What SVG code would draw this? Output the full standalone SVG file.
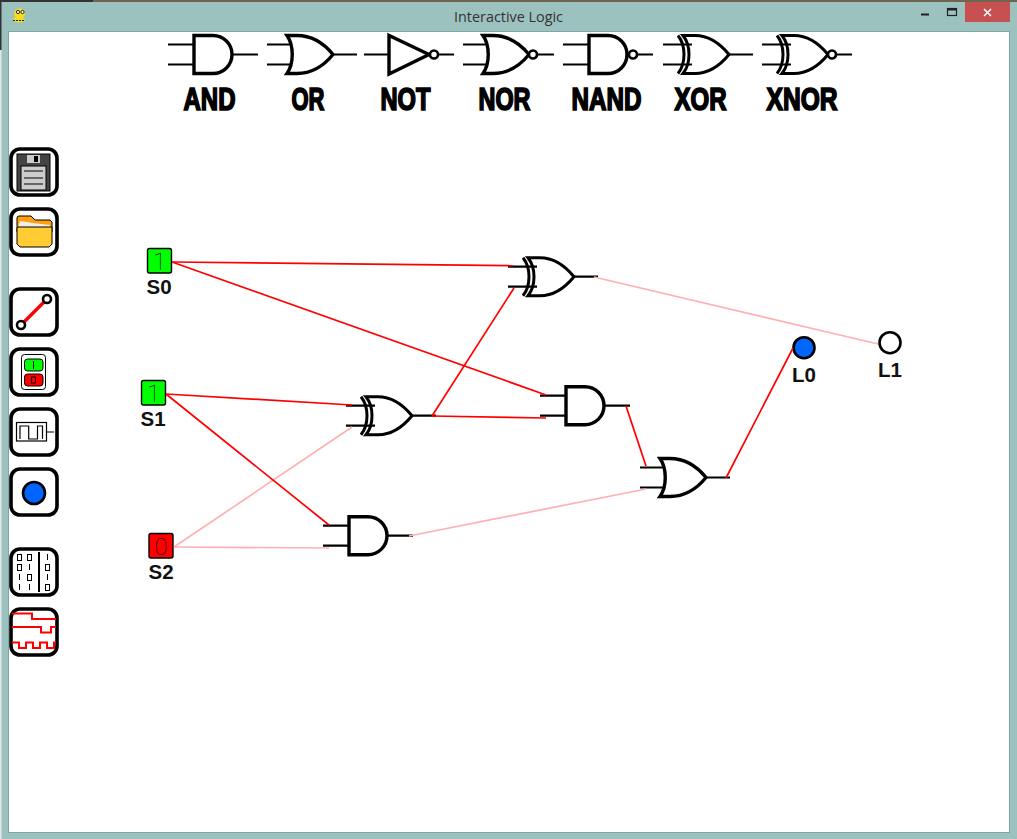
<svg xmlns="http://www.w3.org/2000/svg" width="1017" height="839" viewBox="0 0 1017 839">
<style>
.body{fill:none;stroke:#000;stroke-width:3.4;stroke-linejoin:miter}
.pin{fill:none;stroke:#000;stroke-width:2.2}
.bub{fill:#fff;stroke:#000;stroke-width:2.6}
.btn{fill:#fff;stroke:#000;stroke-width:3.6}
.name{font-family:"Liberation Sans",Arial,sans-serif;font-weight:700;font-size:31px;fill:#000;stroke:#000;stroke-width:1.7;text-anchor:start}
.tag{font-family:"Liberation Sans",Arial,sans-serif;font-weight:700;font-size:20.5px;fill:#111;text-anchor:middle}
.bit{font-family:"Roboto","Liberation Sans",sans-serif;font-weight:100;font-size:24px;fill:#000;text-anchor:middle}
.sw{stroke:#000;stroke-width:1.4}
.on{stroke:#ff0000;stroke-width:1.7;fill:none}
.off{stroke:#ffb0b0;stroke-width:1.7;fill:none}
.thin{fill:none;stroke:#000;stroke-width:1}
.wave{fill:none;stroke:#ff0000;stroke-width:2}
.led{stroke:#000;stroke-width:2.6}
</style>
<defs>
<g id="and"><path class="pin" d="M-26-10H0M-26 10H0M38 0H64"/><path class="body" d="M0-19H19A19 19 0 0 1 19 19H0Z"/></g>
<g id="or"><path class="pin" d="M-26-10H-1M-26 10H-1M40 0H64"/><path class="body" d="M-6-19C1-9 1 9-6 19H4C20 19 31 11 40 0 31-11 20-19 4-19Z"/></g>
<g id="xor"><path class="pin" d="M-26-10H3M-26 10H3M40 0H64"/><path class="body" d="M-11-19C-3-9-3 9-11 19M-6-19C2-9 2 9-6 19H6C20 19 31 11 40 0 31-11 20-19 6-19H-6Z" style="stroke-width:3"/></g>
<g id="nand"><path class="pin" d="M-26-10H0M-26 10H0M44 0H64"/><path class="body" d="M0-19H19A19 19 0 0 1 19 19H0Z"/><circle class="bub" cx="44" cy="0" r="4"/></g>
<g id="nor"><path class="pin" d="M-26-10H-1M-26 10H-1M44 0H65"/><path class="body" d="M-6-19C1-9 1 9-6 19H4C20 19 31 11 40 0 31-11 20-19 4-19Z"/><circle class="bub" cx="44" cy="0" r="4"/></g>
<g id="xnor"><path class="pin" d="M-26-10H3M-26 10H3M44 0H64"/><path class="body" d="M-11-19C-3-9-3 9-11 19M-6-19C2-9 2 9-6 19H6C20 19 31 11 40 0 31-11 20-19 6-19H-6Z" style="stroke-width:3"/><circle class="bub" cx="44" cy="0" r="4"/></g>
</defs>

<g id="window">
<rect width="1017" height="839" fill="#9bc2bf"/>
<rect x="0" y="0" width="1017" height="2" fill="#6e6450"/>
<rect x="0" y="0" width="93" height="2" fill="#333"/>
<rect x="0" y="2" width="1.500" height="48" fill="#333"/>
<rect x="0" y="50" width="1.500" height="789" fill="#dfe8e7"/>
<rect x="8.500" y="31.500" width="1001" height="801" fill="#fff" stroke="#7fa8a5" stroke-width="1"/>
<text x="508.500" y="22" font-family="'Open Sans','Noto Sans',sans-serif" font-size="14" fill="#333" text-anchor="middle" textLength="109" lengthAdjust="spacingAndGlyphs">Interactive Logic</text>
<g id="app-icon">
<ellipse cx="19.500" cy="13.500" rx="5.500" ry="5" fill="#f4dc1e"/>
<ellipse cx="19" cy="19.500" rx="6" ry="3" fill="#f4dc1e"/>
<circle cx="18" cy="12" r="1.600" fill="#fff" stroke="#000" stroke-width=".8"/>
<circle cx="22.500" cy="12" r="1.600" fill="#fff" stroke="#000" stroke-width=".8"/>
<path d="M13 20.500H25" stroke="#222" stroke-width="1.200" stroke-dasharray="2 1"/>
</g>
<rect id="close" x="965" y="2" width="45" height="20" fill="#c75050"/>
<path d="M921 14.500H929" stroke="#222" stroke-width="2"/>
<rect x="947.500" y="8.500" width="9" height="7" fill="none" stroke="#222" stroke-width="1.200"/>
<path d="M947.500 9.500H956.500" stroke="#222" stroke-width="2"/>
<path d="M984 9L991 16M991 9L984 16" stroke="#fff" stroke-width="1.500"/>
</g>

<g id="palette">
<g id="pal-and"><use href="#and" x="194" y="54.500"/><text class="name" x="183.500" y="110" textLength="52" lengthAdjust="spacingAndGlyphs">AND</text></g>
<g id="pal-or"><use href="#or" x="293" y="54.500"/><text class="name" x="291.500" y="110" textLength="33" lengthAdjust="spacingAndGlyphs">OR</text></g>
<g id="pal-not"><path class="pin" d="M364 54.500H389M438 54.500H454"/><path class="body" d="M389 35.500V74L429 54.500Z"/><circle class="bub" cx="434" cy="54.500" r="4"/><text class="name" x="380.500" y="110" textLength="50" lengthAdjust="spacingAndGlyphs">NOT</text></g>
<g id="pal-nor"><use href="#nor" x="489" y="54.500"/><text class="name" x="478.500" y="110" textLength="52" lengthAdjust="spacingAndGlyphs">NOR</text></g>
<g id="pal-nand"><use href="#nand" x="589" y="54.500"/><text class="name" x="571.500" y="110" textLength="70" lengthAdjust="spacingAndGlyphs">NAND</text></g>
<g id="pal-xor"><use href="#xor" x="689" y="54.500"/><text class="name" x="674.500" y="110" textLength="52" lengthAdjust="spacingAndGlyphs">XOR</text></g>
<g id="pal-xnor"><use href="#xnor" x="788" y="54.500"/><text class="name" x="766.500" y="110" textLength="71" lengthAdjust="spacingAndGlyphs">XNOR</text></g>
</g>

<g id="toolbar">
<g id="btn-save"><rect class="btn" x="11" y="149" width="46" height="46" rx="9"/>
<rect x="17" y="154" width="33" height="37" fill="#444" stroke="#000"/>
<rect x="27" y="155" width="13" height="8" fill="#ccc"/><rect x="34" y="156" width="4" height="6" fill="#000"/>
<rect x="21" y="166" width="25" height="24" fill="#ccc" stroke="#000"/>
<path class="thin" d="M24 171H43M24 178H43M24 184H43"/></g>
<g id="btn-open"><rect class="btn" x="11" y="209" width="46" height="46" rx="9"/>
<path d="M17 218Q17 216 19 216H31L35 220H50L52 222V232H17Z" fill="#ff9f0a" stroke="#000"/>
<path d="M18 228L20 221 33 223 50 225V228Z" fill="#eee"/>
<path d="M18 227H52V244L49 247H20L17 244V228Z" fill="#ffcc33" stroke="#000"/></g>
<g id="btn-wire"><rect class="btn" x="11" y="289" width="46" height="46" rx="9"/>
<path d="M21 325L47 299" stroke="#f00" stroke-width="3.400"/>
<circle cx="47" cy="299" r="4" fill="#fff" stroke="#000" stroke-width="2.600"/>
<circle cx="21" cy="325" r="4" fill="#fff" stroke="#000" stroke-width="2.600"/></g>
<g id="btn-switch"><rect class="btn" x="11" y="349" width="46" height="46" rx="9"/>
<rect x="21.500" y="354.500" width="24" height="35" rx="3" fill="#fff" stroke="#000"/>
<rect x="24.500" y="359" width="18.500" height="12" rx="3" fill="#0f0" stroke="#000"/>
<rect x="24.500" y="374" width="18.500" height="12" rx="3" fill="#f00" stroke="#000"/>
<path class="thin" d="M33.500 361V369"/><rect class="thin" x="31.500" y="377" width="4" height="6"/></g>
<g id="btn-clock"><rect class="btn" x="11" y="409" width="46" height="46" rx="9"/>
<rect x="16.500" y="422.500" width="30" height="18.500" fill="#fff" stroke="#000" stroke-width="1.200"/>
<path class="thin" d="M46.500 432H54M20 439V426H28.700V439H37.500V426H42.500V439" style="stroke-width:1.200"/></g>
<g id="btn-led"><rect class="btn" x="11" y="469" width="46" height="46" rx="9"/>
<circle class="led" cx="34" cy="493" r="11" fill="#0066ff"/></g>
<g id="btn-table"><rect class="btn" x="11" y="549" width="46" height="46" rx="9"/>
<path d="M39 552V592" stroke="#000" stroke-width="2"/>
<path class="thin" d="M29.500 564V570M47.500 554V560M19.500 574V580M47.500 574V580M19.500 584V590M29.500 584V590"/>
<rect class="thin" x="17.500" y="554.500" width="4" height="6"/><rect class="thin" x="27.500" y="554.500" width="4" height="6"/>
<rect class="thin" x="17.500" y="564.500" width="4" height="6"/><rect class="thin" x="45.500" y="564.500" width="4" height="6"/>
<rect class="thin" x="27.500" y="574.500" width="4" height="6"/><rect class="thin" x="45.500" y="584.500" width="4" height="6"/></g>
<g id="btn-chrono"><rect class="btn" x="11" y="609" width="46" height="46" rx="9"/>
<path class="wave" d="M12 613.500H32V619H56M12 627H41V632.500H51V627H56M12 642.500H19V648H26V642.500H33V648H40V642.500H47V648H54V642.500H56"/></g>
</g>

<g id="S0"><rect class="sw" x="147.500" y="248.500" width="24" height="24.500" rx="2" fill="#00ff00"/><text class="bit" x="159.500" y="269.500">1</text><text class="tag" x="159" y="293.500">S0</text></g>
<g id="S1"><rect class="sw" x="141.500" y="380.500" width="24" height="24.500" rx="2" fill="#00ff00"/><text class="bit" x="153.500" y="401.500">1</text><text class="tag" x="153" y="426">S1</text></g>
<g id="S2"><rect class="sw" x="149" y="533.500" width="24" height="24.500" rx="2" fill="#ff0000"/><text class="bit" x="161" y="554.500">0</text><text class="tag" x="161" y="578.500">S2</text></g>

<g id="G-xor1"><use href="#xor" x="534" y="276.700"/></g>
<g id="G-xor2"><use href="#xor" x="372" y="415.700"/></g>
<g id="G-and1"><use href="#and" x="566" y="405.700"/></g>
<g id="G-and2"><use href="#and" x="349" y="535.700"/></g>
<g id="G-or1"><use href="#or" x="666" y="477.500"/></g>

<g id="L0"><circle class="led" cx="804" cy="347.700" r="10.500" fill="#0066ff"/><text class="tag" x="804" y="382">L0</text></g>
<g id="L1"><circle class="led" cx="890" cy="342.700" r="10.500" fill="#fff"/><text class="tag" x="890" y="377">L1</text></g>

<g id="connectors">
<path class="off" d="M594 277L878 344"/>
<path class="off" d="M409 536L646 489"/>
<path class="off" d="M174 547L352 427"/>
<path class="off" d="M174 547L329 548"/>
<path class="on" d="M172 262L513 265.700"/>
<path class="on" d="M172 262L546 395"/>
<path class="on" d="M166 394L352 405"/>
<path class="on" d="M166 394L329 525"/>
<path class="on" d="M432 416L514 288"/>
<path class="on" d="M432 416L546 418"/>
<path class="on" d="M626 406L646 466"/>
<path class="on" d="M726 478L793 348"/>
</g>
</svg>
